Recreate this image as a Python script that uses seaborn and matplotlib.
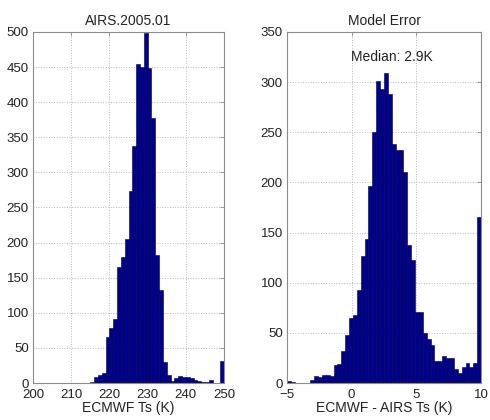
"""AIRS vs ECMWF surface temperature histograms (MATLAB-like look)."""

import numpy as np
import pandas as pd
import matplotlib as mpl
import matplotlib.pyplot as plt
import seaborn as sns

# ── data ──────────────────────────────────────────────────────────────────────
# left panel: ECMWF Ts, 1 K bins from 200 to 250 K (counts per bin)
TS_RANGE = (200, 250)
TS_COUNTS = [0, 0, 0, 0, 0, 0, 0, 0, 0, 0,
             0, 0, 0, 0, 0, 2, 9, 11, 15, 66,
             79, 91, 165, 180, 205, 274, 338, 455, 450, 498,
             449, 378, 182, 132, 30, 11, 3, 7, 10, 9,
             9, 7, 5, 3, 2, 1, 4, 0, 0, 31]

# right panel: ECMWF - AIRS Ts, 0.3 K bins from -5 to 10 K
ERR_RANGE = (-5, 10)
ERR_COUNTS = [2, 1, 0, 0, 0, 0, 3, 7, 6, 8,
              8, 7, 18, 19, 32, 48, 65, 68, 93, 127,
              144, 196, 250, 301, 293, 309, 288, 238, 232, 232,
              210, 138, 123, 71, 71, 50, 44, 38, 22, 22,
              27, 25, 25, 14, 10, 16, 20, 16, 20, 166]
ERR_MEDIAN = 2.9

TS_XTICKS = [200, 210, 220, 230, 240, 250]
TS_YTICKS = [0, 50, 100, 150, 200, 250, 300, 350, 400, 450, 500]
ERR_XTICKS = [-5, 0, 5, 10]
ERR_YTICKS = [0, 50, 100, 150, 200, 250, 300, 350]

BAR_FACE = "#000090"
BAR_EDGE = "#000030"
BOX_COLOR = "#8c8c8c"

sns.set_theme(style="white")
mpl.rcParams.update({
    "font.family": ["Liberation Sans", "DejaVu Sans"],
    "font.size": 9.5,
    "axes.titlesize": 10,
    "axes.labelsize": 10,
    "xtick.labelsize": 9.5,
    "ytick.labelsize": 9.5,
    "text.color": "#222222",
    "axes.labelcolor": "#222222",
    "xtick.color": "#222222",
    "ytick.color": "#222222",
})


def _hist(ax, counts, lo, hi):
    n = len(counts)
    edges = np.linspace(lo, hi, n + 1)
    df = pd.DataFrame({"x": (edges[:-1] + edges[1:]) / 2,
                       "n": np.asarray(counts, dtype=float)})
    sns.histplot(data=df, x="x", weights="n", bins=edges.tolist(), ax=ax,
                 color=BAR_FACE, edgecolor=BAR_EDGE, linewidth=0.4,
                 alpha=1.0, stat="count")
    ax.set_xlim(lo, hi)


def _style(ax, xticks, yticks):
    ax.set_xticks(xticks)
    ax.set_yticks(yticks)
    ax.set_ylim(yticks[0], yticks[-1])
    ax.set_ylabel("")
    ax.set_axisbelow(True)
    ax.grid(True, linestyle=":", color="#b8b8b8", linewidth=0.7)
    ax.tick_params(direction="in", length=3, width=0.6, color=BOX_COLOR,
                   top=True, right=True)
    ax.tick_params(axis="x", pad=4.5)
    ax.tick_params(axis="y", pad=3)
    for sp in ax.spines.values():
        sp.set_visible(True)
        sp.set_color(BOX_COLOR)
        sp.set_linewidth(0.8)


fig = plt.figure(figsize=(4.9, 4.2), dpi=100)
ax1 = fig.add_axes([0.0673, 0.088, 0.390, 0.836])
ax2 = fig.add_axes([0.5857, 0.088, 0.396, 0.836])

_hist(ax1, TS_COUNTS, *TS_RANGE)
_style(ax1, TS_XTICKS, TS_YTICKS)
ax1.set_title("AIRS.2005.01", pad=5)
ax1.set_xlabel("ECMWF Ts (K)", labelpad=0)

_hist(ax2, ERR_COUNTS, *ERR_RANGE)
_style(ax2, ERR_XTICKS, ERR_YTICKS)
ax2.set_title("Model Error", pad=5)
ax2.set_xlabel("ECMWF - AIRS Ts (K)", labelpad=0)
ax2.text(3.1, 325, f"Median: {ERR_MEDIAN}K", ha="center", va="center",
         fontsize=10)

fig.savefig("out.png", dpi=100)
plt.close(fig)
